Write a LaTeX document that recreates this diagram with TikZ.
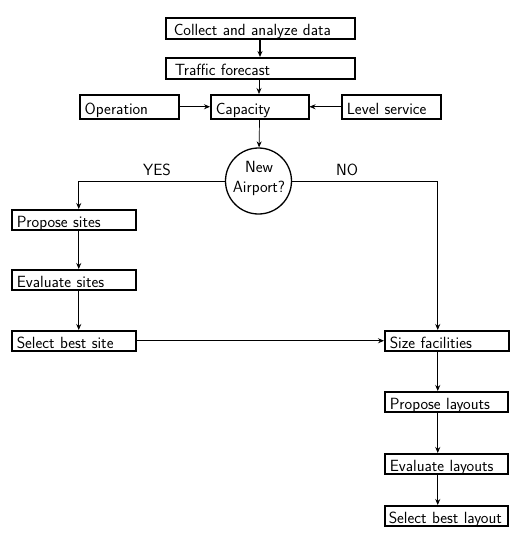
\documentclass[tikz,border=0pt]{standalone}
\usetikzlibrary{arrows.meta}
\begin{document}
\begin{tikzpicture}[x=1pt,y=-1pt,
  font=\sffamily\fontsize{16.2}{20}\selectfont,
  box/.style={draw, line width=1.5pt, minimum height=20pt, inner xsep=5pt, inner ysep=0pt, align=left, anchor=north west, text height=14.5pt, text depth=0pt},
  wbox/.style={box, text width=#1-10pt, minimum width=#1},
  arr/.style={line width=0.7pt, -{Stealth[length=6pt,width=5pt]}}]
\useasboundingbox (0,0) rectangle (522,550);
\node[wbox=189pt, inner xsep=8pt, text width=173pt, minimum height=21pt] (cd) at (165,17) {\mbox{Collect and analyze data}};
\node[wbox=189pt, inner xsep=9pt, text width=171pt, minimum height=21pt] (tf) at (165,57) {\mbox{Traffic forecast}};
\node[wbox=99pt, minimum height=24pt] (op) at (79,94) {\mbox{Operation}};
\node[wbox=98pt, minimum height=24pt] (ca) at (210,94) {\mbox{Capacity}};
\node[wbox=99pt, minimum height=24pt] (ls) at (341,94) {\mbox{Level service}};
\node[draw, circle, line width=1.3pt, minimum size=66pt, inner sep=0pt] (na) at (258.5,181) {};
\node[align=center, inner sep=0pt] (natext) at (259,178) {New\\Airport?};
\node[wbox=124pt] (ps) at (11,209) {\mbox{Propose sites}};
\node[wbox=124pt] (es) at (11,269) {\mbox{Evaluate sites}};
\node[wbox=124pt] (ss) at (11,330) {\mbox{Select best site}};
\node[wbox=124pt] (sf) at (384,330) {\mbox{Size facilities}};
\node[wbox=123pt] (pl) at (384,391) {\mbox{Propose layouts}};
\node[wbox=123pt] (el) at (384,453) {\mbox{Evaluate layouts}};
\node[wbox=123pt, inner xsep=4pt, text width=115pt] (sl) at (384,505) {\mbox{Select best layout}};
\node (yes) at (157,170) {YES};
\node (no) at (347,170) {NO};
\draw[arr, line width=1.3pt] (cd.south -| 260,0) -- (tf.north -| 260,0);
\draw[arr] (tf.south -| 259,0) -- (ca.north -| 259,0);
\draw[arr] (op) -- (ca);
\draw[arr] (ls) -- (ca);
\draw[arr] (ca) -- (na);
\draw[arr] (na.west) -| ([xshift=5pt]ps.north);
\draw[arr] (na.east) -| ([xshift=-9pt]sf.north);
\draw[arr] ([xshift=5pt]ps.south) -- ([xshift=5pt]es.north);
\draw[arr] ([xshift=5pt]es.south) -- ([xshift=5pt]ss.north);
\draw[arr] (ss) -- (sf);
\draw[arr] ([xshift=-9pt]sf.south) -- ([xshift=-8.5pt]pl.north);
\draw[arr] ([xshift=-8.5pt]pl.south) -- ([xshift=-8.5pt]el.north);
\draw[arr] ([xshift=-8.5pt]el.south) -- ([xshift=-8.5pt]sl.north);
\end{tikzpicture}
\end{document}
